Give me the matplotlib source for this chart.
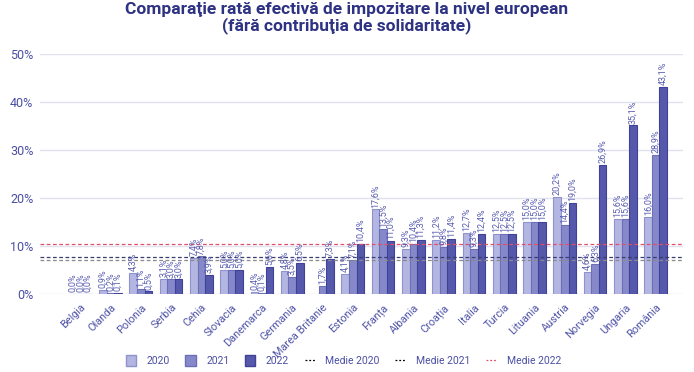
import numpy as np
import matplotlib
matplotlib.use("Agg")
import matplotlib.pyplot as plt
from matplotlib.patches import Patch
from matplotlib.lines import Line2D

plt.rcParams['font.family'] = ['Roboto', 'DejaVu Sans']

# data
countries = ['Belgia', 'Olanda', 'Polonia', 'Serbia', 'Cehia', 'Slovacia', 'Danemarca',
             'Germania', 'Marea Britanie', 'Estonia', 'Franța', 'Albania', 'Croația',
             'Italia', 'Turcia', 'Lituania', 'Austria', 'Norvegia', 'Ungaria', 'România']
v2020 = [0.0, 0.9, 4.3, 3.1, 7.4, 5.0, 0.4, 4.8, np.nan, 4.1, 17.6, 9.3, 11.2,
         12.7, 12.5, 15.0, 20.2, 4.6, 15.6, 16.0]
v2021 = [0.0, 0.2, 1.1, 3.0, 7.8, 5.0, 0.1, 3.5, 1.7, 7.1, 13.5, 10.4, 9.8,
         9.3, 12.5, 15.0, 14.4, 6.3, 15.6, 28.9]
v2022 = [0.0, 0.1, 0.5, 3.0, 3.9, 5.0, 5.6, 6.5, 7.3, 10.4, 11.0, 11.3, 11.4,
         12.4, 12.5, 15.0, 19.0, 26.9, 35.1, 43.1]
medie = {'Medie 2020': 7.1, 'Medie 2021': 7.7, 'Medie 2022': 10.4}

series = [('2020', v2020, '#b4b6e2', '#8f92cc'),
          ('2021', v2021, '#8689c9', '#6c6fb8'),
          ('2022', v2022, '#5558ab', '#3f4296')]
medie_styles = {'Medie 2020': '#8a8a8a', 'Medie 2021': '#3a3d70', 'Medie 2022': '#e0506a'}
text_col = '#4b4fa3'
title_col = '#2e3282'

fig = plt.figure(figsize=(6.94, 3.72), dpi=100)
ax = fig.add_axes([0.058, 0.21, 0.926, 0.645])

x = np.arange(len(countries))
w = 0.25
for i, (name, vals, fc, ec) in enumerate(series):
    pos = x + (i - 1) * w
    arr = np.array(vals, dtype=float)
    ax.bar(pos, arr, w, color=fc, edgecolor=ec, linewidth=0.8, zorder=2)
    for px, v in zip(pos, arr):
        if np.isnan(v):
            continue
        ax.text(px, v + 0.4, f"{v:.1f}%".replace('.', ','), rotation=90,
                ha='center', va='bottom', fontsize=6.5, color='#5a5eb2', zorder=4,
                clip_on=False)

for name, val in medie.items():
    ax.axhline(val, color=medie_styles[name], linestyle=(0, (3, 2)), linewidth=0.9, zorder=3)

ax.set_xlim(-1.32, 19.9)
ax.set_ylim(0, 50)
ax.set_yticks(np.arange(0, 51, 10))
ax.set_yticklabels([f"{t}%" for t in range(0, 51, 10)], fontsize=9, color=text_col)
ax.set_xticks(x)
ax.set_xticklabels(countries, rotation=45, ha='right', rotation_mode='anchor',
                   fontsize=7.8, color='#5054a8')
ax.tick_params(axis='x', length=0, pad=6)
ax.tick_params(axis='y', length=0, pad=5)
ax.grid(axis='y', color='#e1e2f0', linewidth=1, zorder=0)
for s in ax.spines.values():
    s.set_visible(False)

fig.suptitle("Comparaţie rată efectivă de impozitare la nivel european\n(fără contribuţia de solidaritate)",
             x=0.50, y=0.995, fontsize=12.5, fontweight='bold', color=title_col, linespacing=1.05)

handles = [Patch(facecolor=fc, edgecolor=ec, label=name) for name, _, fc, ec in series]
handles += [Line2D([0], [0], color=c, linestyle=(0, (1.5, 1.5)), linewidth=0.9, label=n)
            for n, c in [('Medie 2020', 'black'), ('Medie 2021', 'black'), ('Medie 2022', '#e0506a')]]
leg = fig.legend(handles=handles, loc='lower center', bbox_to_anchor=(0.495, -0.01), ncol=6,
                 frameon=False, fontsize=7.5, handlelength=1.0, handleheight=1.3,
                 columnspacing=1.5, handletextpad=1.0)
for t in leg.get_texts():
    t.set_color(text_col)

fig.savefig('out.png', dpi=100)
